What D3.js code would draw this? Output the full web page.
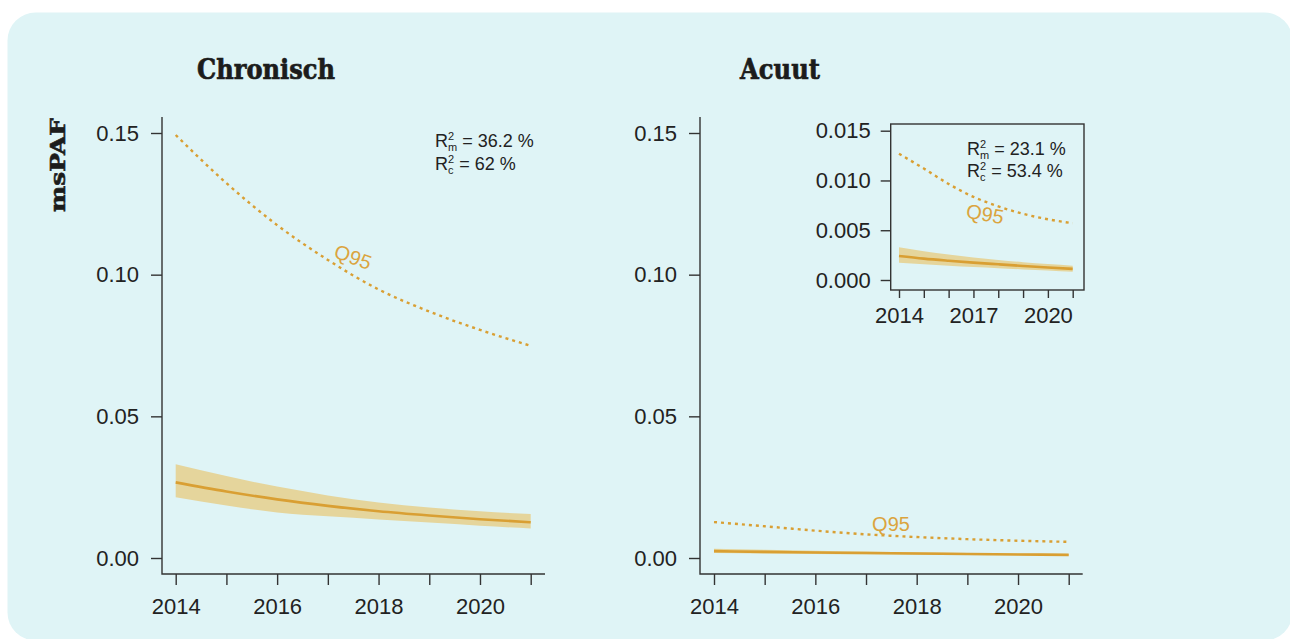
<!DOCTYPE html>
<html>
<head>
<meta charset="utf-8">
<script src="https://cdn.jsdelivr.net/npm/d3@7"></script>
<style>
  body { margin: 0; background: #fff; }
  svg { display: block; }
</style>
</head>
<body>
<div id="chart"></div>
<script>
// jaren en waarden
const years = [2014, 2015, 2016, 2017, 2018, 2019, 2020, 2021];

const chronMean = [0.0267, 0.0235, 0.0207, 0.0184, 0.0165, 0.0150, 0.0137, 0.0126];
const chronHigh = [0.0331, 0.0289, 0.0252, 0.0221, 0.0196, 0.0178, 0.0165, 0.0155];
const chronLow  = [0.0214, 0.0185, 0.0161, 0.0147, 0.0136, 0.0125, 0.0114, 0.0104];
const chronQ95  = [0.1493, 0.1323, 0.1175, 0.1052, 0.0948, 0.0870, 0.0805, 0.0749];

const acuutMean = [0.00241, 0.00215, 0.00194, 0.00175, 0.00158, 0.00141, 0.00125, 0.00112];
const acuutHigh = [0.00330, 0.00290, 0.00255, 0.00226, 0.00200, 0.00179, 0.00160, 0.00143];
const acuutLow  = [0.00174, 0.00158, 0.00143, 0.00130, 0.00118, 0.00106, 0.00095, 0.00082];
const acuutQ95  = [0.01268, 0.01120, 0.00965, 0.00835, 0.00740, 0.00665, 0.00610, 0.00570];

const mainYTicks  = [0, 0.05, 0.10, 0.15];
const insetYTicks = [0, 0.005, 0.010, 0.015];
const mainXLabels  = [2014, 2016, 2018, 2020];
const insetXLabels = [2014, 2017, 2020];

const chronR2 = ["m", "= 36.2 %", "c", "= 62 %"];
const acuutR2 = ["m", "= 23.1 %", "c", "= 53.4 %"];

// kleuren
const lineCol = "#d99f33";
const bandCol = "#e5d59c";
const textCol = "#222";
const axisCol = "#333";
const sans = "'Liberation Sans', Arial, Helvetica, sans-serif";
const slab = "'DejaVu Serif', serif";

const W = 1290, H = 639;

const svg = d3.select("#chart")
  .append("svg")
    .attr("width", W)
    .attr("height", H);

// achtergrondpaneel
svg.append("rect")
  .attr("x", 7.5).attr("y", 12.5)
  .attr("width", 1285).attr("height", 628)
  .attr("rx", 28)
  .attr("fill", "#dff4f6");

function rows(mean, low, high, q95) {
  return years.map((yr, i) => ({yr: yr, mean: mean[i], low: low[i], high: high[i], q95: q95[i]}));
}

// tekent één grafiek (assen + band + lijnen)
function drawPlot(g, data, x, y, opt) {
  const band = d3.area()
    .x(d => x(d.yr))
    .y0(d => y(d.low))
    .y1(d => y(d.high))
    .curve(d3.curveMonotoneX);

  const mean = d3.line()
    .x(d => x(d.yr))
    .y(d => y(d.mean))
    .curve(d3.curveMonotoneX);

  const q95 = d3.line()
    .x(d => x(d.yr))
    .y(d => y(d.q95))
    .curve(d3.curveMonotoneX);

  g.append("path")
    .datum(data)
    .attr("d", band)
    .attr("fill", bandCol);

  g.append("path")
    .datum(data)
    .attr("d", mean)
    .attr("fill", "none")
    .attr("stroke", lineCol)
    .attr("stroke-width", 2.6);

  g.append("path")
    .datum(data)
    .attr("d", q95)
    .attr("fill", "none")
    .attr("stroke", lineCol)
    .attr("stroke-width", 2.4)
    .attr("stroke-dasharray", "3,4");

  // y-as
  const yAxis = g.append("g")
    .attr("transform", `translate(${opt.left},0)`)
    .call(d3.axisLeft(y)
      .tickValues(opt.yTicks)
      .tickSize(opt.tick)
      .tickPadding(opt.pad)
      .tickFormat(d3.format(opt.yFormat)));

  // x-as
  const xAxis = g.append("g")
    .attr("transform", `translate(0,${opt.bottom})`)
    .call(d3.axisBottom(x)
      .tickValues(years)
      .tickSize(opt.xtick)
      .tickPadding(opt.xpad)
      .tickFormat(d => opt.xLabels.includes(d) ? d : ""));

  [yAxis, xAxis].forEach(a => {
    a.select(".domain").remove();
    a.selectAll("line").attr("stroke", axisCol).attr("stroke-width", 1.4);
    a.selectAll("text")
      .attr("fill", textCol)
      .style("font-family", sans)
      .style("font-size", "22px");
  });

  // L-vormige of volledige rand
  if (opt.box) {
    g.append("rect")
      .attr("x", opt.left).attr("y", opt.top)
      .attr("width", opt.right - opt.left).attr("height", opt.bottom - opt.top)
      .attr("fill", "none").attr("stroke", axisCol).attr("stroke-width", 1.4);
  } else {
    g.append("path")
      .attr("d", `M${opt.left},${opt.top}V${opt.bottom}H${opt.right}`)
      .attr("fill", "none").attr("stroke", axisCol).attr("stroke-width", 1.4);
  }
}

// R² tekst met boven- en onderschrift
function r2Text(g, x0, y0, y1, labels) {
  [[y0, labels[0], labels[1]], [y1, labels[2], labels[3]]].forEach(r => {
    const t = g.append("text")
      .attr("x", x0).attr("y", r[0])
      .attr("fill", textCol)
      .style("font-family", sans).style("font-size", "18px")
      .text("R");
    const rw = t.node().getComputedTextLength();
    const sup = g.append("text")
      .attr("x", x0 + rw).attr("y", r[0] - 7)
      .attr("fill", textCol)
      .style("font-family", sans).style("font-size", "11px")
      .text("2");
    const sub = g.append("text")
      .attr("x", x0 + rw).attr("y", r[0] + 4)
      .attr("fill", textCol)
      .style("font-family", sans).style("font-size", "11px")
      .text(r[1]);
    const sw = Math.max(sup.node().getComputedTextLength(), sub.node().getComputedTextLength());
    g.append("text")
      .attr("x", x0 + rw + sw + 5).attr("y", r[0])
      .attr("fill", textCol)
      .style("font-family", sans).style("font-size", "18px")
      .text(r[2]);
  });
}

function q95Label(g, cx, cy, angle, size) {
  g.append("text")
    .attr("transform", `translate(${cx},${cy}) rotate(${angle})`)
    .attr("text-anchor", "middle")
    .attr("dy", "0.35em")
    .attr("fill", "#dba43e")
    .style("font-family", sans)
    .style("font-size", size + "px")
    .text("Q95");
}

function title(txt, x, y, len) {
  svg.append("text")
    .attr("x", x).attr("y", y)
    .attr("fill", "#1c1c1c")
    .attr("stroke", "#1c1c1c")
    .attr("stroke-width", 0.7)
    .attr("textLength", len)
    .attr("lengthAdjust", "spacingAndGlyphs")
    .style("font-family", slab)
    .style("font-weight", "bold")
    .style("font-size", "28px")
    .text(txt);
}

// ---- Chronisch ----
const chronData = rows(chronMean, chronLow, chronHigh, chronQ95);
const x1 = d3.scaleLinear().domain([2014, 2021]).range([175.7, 530.7]);
const y1 = d3.scaleLinear().domain([0, 0.15]).range([558, 133]);
const g1 = svg.append("g");
drawPlot(g1, chronData, x1, y1, {
  left: 162, right: 545, top: 117, bottom: 574,
  yTicks: mainYTicks, yFormat: ".2f", tick: 11, pad: 12,
  xLabels: mainXLabels, xtick: 11, xpad: 13, box: false
});
q95Label(g1, 353, 257, 20, 20);
r2Text(g1, 435, 147, 170, chronR2);

// ---- Acuut ----
const acuutData = rows(acuutMean, acuutLow, acuutHigh, acuutQ95);
const x2 = d3.scaleLinear().domain([2014, 2021]).range([714, 1068.7]);
const y2 = d3.scaleLinear().domain([0, 0.15]).range([558, 133]);
const g2 = svg.append("g");
drawPlot(g2, acuutData, x2, y2, {
  left: 700, right: 1082.7, top: 117, bottom: 574,
  yTicks: mainYTicks, yFormat: ".2f", tick: 11, pad: 12,
  xLabels: mainXLabels, xtick: 11, xpad: 13, box: false
});
q95Label(g2, 891, 524, 0, 20);

// inzet met ingezoomde y-as
const x3 = d3.scaleLinear().domain([2014, 2021]).range([899, 1072.7]);
const y3 = d3.scaleLinear().domain([0, 0.015]).range([280, 130.7]);
const g3 = svg.append("g");
drawPlot(g3, acuutData, x3, y3, {
  left: 890.7, right: 1084, top: 124, bottom: 290,
  yTicks: insetYTicks, yFormat: ".3f", tick: 10, pad: 10,
  xLabels: insetXLabels, xtick: 8, xpad: 9, box: true
});
q95Label(g3, 985, 214, 10, 20);
r2Text(g3, 967, 155, 177, acuutR2);

// titels
title("Chronisch", 197, 79, 138);
title("Acuut", 740, 79, 80);

svg.append("text")
  .attr("transform", "translate(65,165) rotate(-90)")
  .attr("text-anchor", "middle")
  .attr("fill", "#1c1c1c")
  .attr("stroke", "#1c1c1c")
  .attr("stroke-width", 0.6)
  .attr("textLength", 94)
  .attr("lengthAdjust", "spacingAndGlyphs")
  .style("font-family", slab)
  .style("font-weight", "bold")
  .style("font-size", "21px")
  .text("msPAF");
</script>
</body>
</html>
